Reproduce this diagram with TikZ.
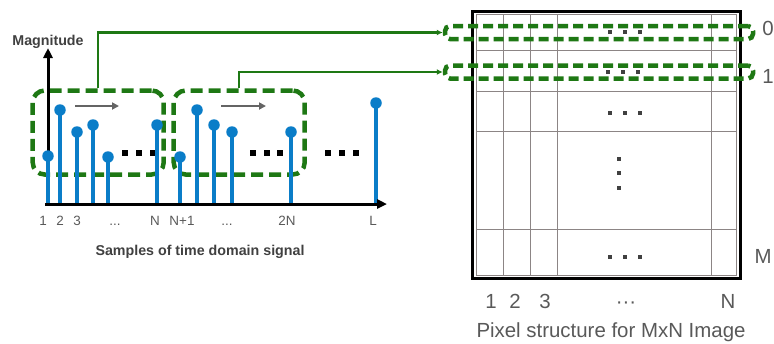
\documentclass[tikz,border=0pt]{standalone}
\usepackage{fontspec}
\setmainfont{Liberation Sans}
\usetikzlibrary{positioning,arrows.meta}

\definecolor{stemblue}{RGB}{10,125,200}
\definecolor{boxgreen}{RGB}{30,120,20}
\definecolor{movegrey}{RGB}{100,100,100}
\definecolor{dotgrey}{RGB}{64,64,64}
\definecolor{gridgrey}{RGB}{140,133,133}
\definecolor{labelgrey}{RGB}{89,89,89}
\definecolor{titlegrey}{RGB}{64,64,64}

\begin{document}
\begin{tikzpicture}[x=1bp,y=-1bp,
  stemdot/.style={circle,fill=stemblue,inner sep=0pt,minimum size=11.5bp},
  stemline/.style={stemblue,line width=3.4bp},
  axisline/.style={line width=3bp,-{Triangle[length=10bp,width=9bp]}},
  grpbox/.style={draw=boxgreen,line width=4.5bp,dash pattern=on 12bp off 6bp,rounded corners=12bp,
    minimum width=131bp,minimum height=84bp,inner sep=0pt},
  rowbox/.style={draw=boxgreen,line width=4.5bp,dash pattern=on 10bp off 5bp,rounded corners=5bp,
    minimum width=308bp,minimum height=13bp,inner sep=0pt},
  conn/.style={boxgreen,line width=2.4bp,-{Latex[length=6bp,width=6bp]}},
  shiftarr/.style={movegrey,line width=2.4bp,-{Triangle[length=7bp,width=7bp]}},
  blk/.style={fill=black,inner sep=0pt,minimum size=6.5bp},
  pixdot/.style={fill=dotgrey,inner sep=0pt,minimum size=4bp},
  gridline/.style={gridgrey,line width=1bp},
  ticklab/.style={anchor=base,inner sep=0pt,text=labelgrey,font=\fontsize{13.5}{16}\selectfont},
  imglab/.style={anchor=base,inner sep=0pt,text=labelgrey,font=\fontsize{20.5}{24}\selectfont},
  axtitle/.style={anchor=base,inner sep=0pt,text=titlegrey,font=\bfseries\fontsize{14.3}{17}\selectfont}]
  \useasboundingbox (0,0) rectangle (774,343);

  % groups of N samples
  \node[grpbox] (box1) at (98.2,132.5) {};
  \node[grpbox] (box2) at (239.2,132.5) {};

  \node[blk] (d1) at (125,153) {};
  \node[blk] (d2) at (139,153) {};
  \node[blk] (d3) at (153,153) {};
  \node[blk] (d4) at (253,153) {};
  \node[blk] (d5) at (267,153) {};
  \node[blk] (d6) at (280,153) {};
  \node[blk] (d7) at (328,153) {};
  \node[blk] (d8) at (342,153) {};
  \node[blk] (d9) at (356,153) {};

  \coordinate (xo) at (45,204);
  \coordinate (yo) at (48,205);
  \coordinate (ytip) at (48,48);
  \coordinate (xtip) at (387,204);
  \draw[axisline] (yo) -- (ytip);

  \node[stemdot] (s1) at (48,156) {};
  \node[stemdot] (s2) at (60,110) {};
  \node[stemdot] (s3) at (77,132) {};
  \node[stemdot] (s4) at (93,125) {};
  \node[stemdot] (s5) at (108,157) {};
  \node[stemdot] (sN) at (157,125) {};
  \node[stemdot] (sN1) at (180,157) {};
  \node[stemdot] (s7) at (197,110) {};
  \node[stemdot] (s8) at (214,125) {};
  \node[stemdot] (s9) at (232,132) {};
  \node[stemdot] (s2N) at (291,132) {};
  \node[stemdot] (sL) at (376,103) {};
  \draw[stemline] (s1.center) -- (s1 |- xo);
  \draw[stemline] (s2.center) -- (s2 |- xo);
  \draw[stemline] (s3.center) -- (s3 |- xo);
  \draw[stemline] (s4.center) -- (s4 |- xo);
  \draw[stemline] (s5.center) -- (s5 |- xo);
  \draw[stemline] (sN.center) -- (sN |- xo);
  \draw[stemline] (sN1.center) -- (sN1 |- xo);
  \draw[stemline] (s7.center) -- (s7 |- xo);
  \draw[stemline] (s8.center) -- (s8 |- xo);
  \draw[stemline] (s9.center) -- (s9 |- xo);
  \draw[stemline] (s2N.center) -- (s2N |- xo);
  \draw[stemline] (sL.center) -- (sL |- xo);
  \draw[axisline] (xo) -- (xtip);

  \coordinate (m1a) at (75,106);
  \coordinate (m1b) at (119,106);
  \coordinate (m2a) at (221,106);
  \coordinate (m2b) at (266,106);
  \draw[shiftarr] (m1a) -- (m1b);
  \draw[shiftarr] (m2a) -- (m2b);

  \node[axtitle] (mag) at (48,45) {Magnitude};
  \node[axtitle] (samples) at (200,255) {Samples of time domain signal};
  \node[ticklab] (t1) at (43,225) {1};
  \node[ticklab] (t2) at (60,225) {2};
  \node[ticklab] (t3) at (77,225) {3};
  \node[ticklab] (t4) at (115,225) {...};
  \node[ticklab] (tN) at (155,225) {N};
  \node[ticklab] (tN1) at (182,225) {N+1};
  \node[ticklab] (t7) at (227,225) {...};
  \node[ticklab] (t2N) at (287,225) {2N};
  \node[ticklab] (tL) at (373,225) {L};

  % MxN image
  \draw[line width=3bp] (472,11) rectangle (740,278);
  \draw[gridline] (476,14) rectangle (736,275);
  \draw[gridline] (503,14) -- (503,275);
  \draw[gridline] (530,14) -- (530,275);
  \draw[gridline] (557,14) -- (557,275);
  \draw[gridline] (711,14) -- (711,275);
  \draw[gridline] (476,50) -- (736,50);
  \draw[gridline] (476,91) -- (736,91);
  \draw[gridline] (476,131) -- (736,131);
  \draw[gridline] (476,229) -- (736,229);

  \node[pixdot] (p1) at (610,32) {};
  \node[pixdot] (p2) at (625,32) {};
  \node[pixdot] (p3) at (640,32) {};
  \node[pixdot] (p4) at (608,72) {};
  \node[pixdot] (p5) at (623,72) {};
  \node[pixdot] (p6) at (638,72) {};
  \node[pixdot] (p7) at (610,113) {};
  \node[pixdot] (p8) at (625,113) {};
  \node[pixdot] (p9) at (640,113) {};
  \node[pixdot] (v1) at (619,159) {};
  \node[pixdot] (v2) at (619,173) {};
  \node[pixdot] (v3) at (619,188) {};
  \node[pixdot] (q1) at (610,257) {};
  \node[pixdot] (q2) at (625,257) {};
  \node[pixdot] (q3) at (640,257) {};

  \node[rowbox] (row0) at (599,32.5) {};
  \node[rowbox] (row1) at (599,72) {};
  \draw[conn] (box1.north) |- (row0.west);
  \draw[conn] (box2.north) |- (row1.west);

  \node[imglab] (r0) at (768,35) {0};
  \node[imglab] (r1) at (768,83) {1};
  \node[imglab] (rM) at (763,263) {M};
  \node[imglab] (c1) at (491,308) {1};
  \node[imglab] (c2) at (515,308) {2};
  \node[imglab] (c3) at (545,308) {3};
  \node[imglab] (c4) at (626,308) {···};
  \node[imglab] (cN) at (728,308) {N};
  \node[imglab] (cap) at (611,337) {Pixel structure for MxN Image};
\end{tikzpicture}
\end{document}
